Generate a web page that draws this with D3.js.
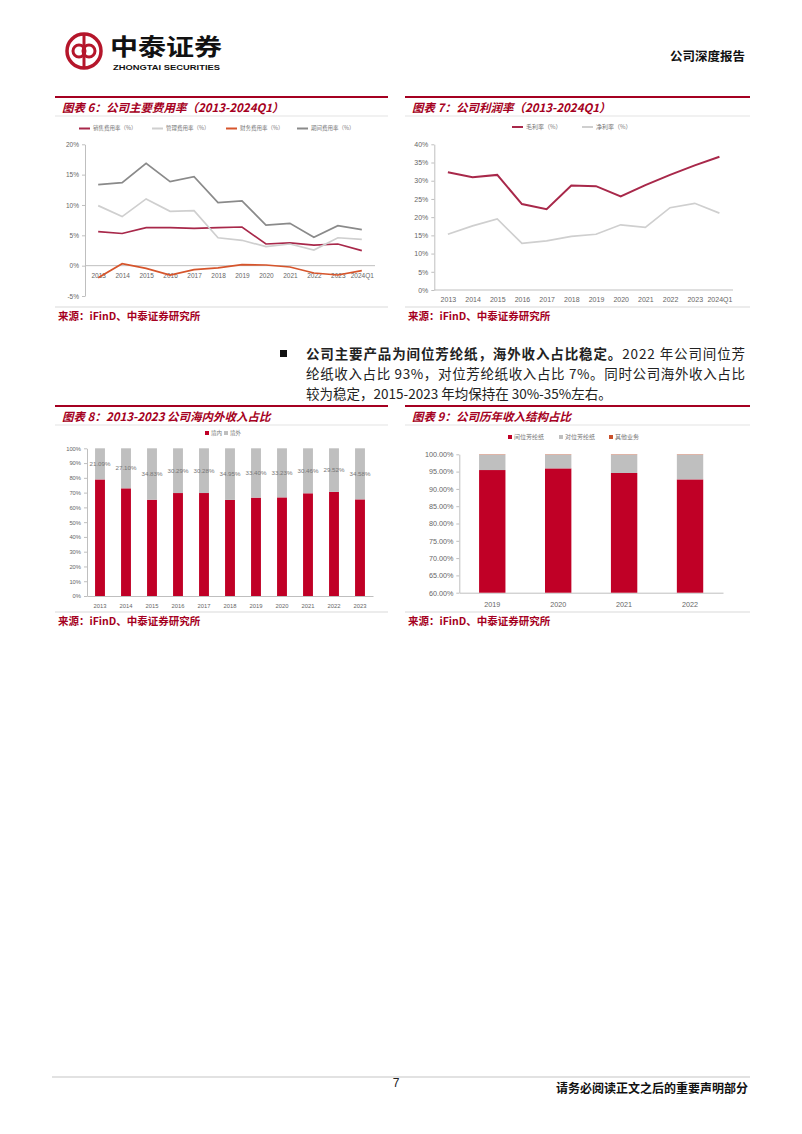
<!DOCTYPE html>
<html>
<head>
<meta charset="utf-8">
<script src="https://cdn.jsdelivr.net/npm/d3@7"></script>
<style>
  body { margin: 0; background: #fff; }
  svg text { font-family: "Liberation Sans", "Noto Sans CJK SC", sans-serif; }
  .cjk { font-family: "Noto Sans CJK SC", sans-serif; }
</style>
</head>
<body>
<div id="page"></div>
<script>
// ---- data ----
var years13 = ["2013","2014","2015","2016","2017","2018","2019","2020","2021","2022","2023","2024Q1"];
var salesRate   = [5.6, 5.3, 6.26, 6.26, 6.15, 6.26, 6.37, 3.57, 3.74, 3.4, 3.57, 2.47];
var adminRate   = [9.89, 8.08, 11.0, 8.96, 9.07, 4.6, 4.18, 3.13, 3.57, 2.58, 4.6, 4.34];
var financeRate = [-1.98, 0.33, -0.44, -1.54, -0.66, -0.38, 0.16, 0.11, -0.22, -1.21, -1.54, -0.82];
var periodRate  = [13.35, 13.68, 16.87, 13.85, 14.67, 10.38, 10.66, 6.7, 6.98, 4.67, 6.59, 5.93];
var feeTicks = [-5, 0, 5, 10, 15, 20];

var grossMargin = [32.3, 30.95, 31.6, 23.6, 22.2, 28.7, 28.5, 25.7, 28.8, 31.6, 34.2, 36.6];
var netMargin   = [15.3, 17.6, 19.5, 12.8, 13.5, 14.7, 15.3, 17.9, 17.2, 22.6, 23.8, 21.1];
var marginTicks = [0, 5, 10, 15, 20, 25, 30, 35, 40];

var years8 = ["2013","2014","2015","2016","2017","2018","2019","2020","2021","2022","2023"];
var domestic = [78.91, 72.90, 65.17, 69.71, 69.72, 65.05, 66.60, 66.77, 69.54, 70.48, 65.42];
var overseas = [21.09, 27.10, 34.83, 30.29, 30.28, 34.95, 33.40, 33.23, 30.46, 29.52, 34.58];
var shareTicks = [0, 10, 20, 30, 40, 50, 60, 70, 80, 90, 100];

var years9 = ["2019","2020","2021","2022"];
var metaPaper  = [95.45, 95.93, 94.6, 92.75];
var paraPaper  = [4.45, 3.97, 5.3, 7.15];
var otherBiz   = [0.1, 0.1, 0.1, 0.1];
var structTicks = [60, 65, 70, 75, 80, 85, 90, 95, 100];

var RED = "#a50021";
var BAR_RED = "#c00026";
var BAR_GRAY = "#bfbfbf";
var AXIS = "#bfbfbf";
var LABEL = "#666";

var svg = d3.select("#page").append("svg")
    .attr("width", 802)
    .attr("height", 1134)
    .style("display", "block");
svg.append("rect").attr("width", 802).attr("height", 1134).attr("fill", "#fff");

// ---- page header ----
var logo = svg.append("g").attr("transform", "translate(84,51)");
logo.append("circle").attr("r", 17).attr("fill", "none").attr("stroke", "#b5162b").attr("stroke-width", 3.5);
logo.append("circle").attr("cx", -5).attr("cy", 0).attr("r", 6).attr("fill", "none").attr("stroke", "#b5162b").attr("stroke-width", 3);
logo.append("circle").attr("cx", 5).attr("cy", 0).attr("r", 6).attr("fill", "none").attr("stroke", "#b5162b").attr("stroke-width", 3);
logo.append("line").attr("x1", 0).attr("x2", 0).attr("y1", -16).attr("y2", 16).attr("stroke", "#b5162b").attr("stroke-width", 3);

svg.append("text").attr("class", "cjk")
    .attr("x", 110).attr("y", 55)
    .attr("textLength", 112).attr("lengthAdjust", "spacingAndGlyphs")
    .style("font-size", "23px").style("font-weight", 700).attr("fill", "#111")
    .text("中泰证券");
svg.append("text")
    .attr("x", 113).attr("y", 69.5)
    .attr("textLength", 107).attr("lengthAdjust", "spacingAndGlyphs")
    .style("font-size", "7.5px").style("font-weight", 700).attr("fill", "#111")
    .text("ZHONGTAI SECURITIES");
svg.append("text").attr("class", "cjk")
    .attr("x", 745).attr("y", 61).attr("text-anchor", "end")
    .style("font-size", "12.5px").style("font-weight", 700).attr("fill", "#111")
    .text("公司深度报告");

// ---- panel frame: red top rule, title, rules, source ----
function panel(x0, x1, top, title, srcY) {
    svg.append("line").attr("x1", x0).attr("x2", x1).attr("y1", top).attr("y2", top)
        .attr("stroke", RED).attr("stroke-width", 2);
    svg.append("text").attr("class", "cjk")
        .attr("x", x0 + 7).attr("y", top + 11).attr("dy", "0.35em")
        .style("font-size", "11.5px").style("font-weight", 700).style("font-style", "italic")
        .attr("fill", RED)
        .text(title);
    svg.append("line").attr("x1", x0).attr("x2", x1).attr("y1", top + 19).attr("y2", top + 19)
        .attr("stroke", "#e3e3e3").attr("stroke-width", 1);
    svg.append("line").attr("x1", x0).attr("x2", x1).attr("y1", srcY).attr("y2", srcY)
        .attr("stroke", "#d9d9d9").attr("stroke-width", 1);
    svg.append("text").attr("class", "cjk")
        .attr("x", x0 + 3).attr("y", srcY + 9).attr("dy", "0.35em")
        .style("font-size", "10.5px").style("font-weight", 700)
        .attr("fill", RED)
        .text("来源：iFinD、中泰证券研究所");
}

panel(55, 388, 97, "图表 6：公司主要费用率（2013-2024Q1）", 307);
panel(405, 750, 97, "图表 7：公司利润率（2013-2024Q1）", 307);
panel(55, 388, 406, "图表 8：2013-2023 公司海内外收入占比", 612);
panel(405, 750, 406, "图表 9：公司历年收入结构占比", 612);

function styleAxis(g, fs) {
    g.select(".domain").attr("stroke", AXIS);
    g.selectAll(".tick line").attr("stroke", AXIS);
    g.selectAll(".tick text").attr("fill", LABEL).style("font-size", fs + "px")
        .style("font-family", "'Liberation Sans', sans-serif");
}

function lineLegend(items, y) {
    items.forEach(function(it) {
        svg.append("line").attr("x1", it.x).attr("x2", it.x + 11).attr("y1", y).attr("y2", y)
            .attr("stroke", it.color).attr("stroke-width", 2);
        svg.append("text").attr("class", "cjk")
            .attr("x", it.x + 14).attr("y", y).attr("dy", "0.35em")
            .style("font-size", it.fs + "px").attr("fill", "#777")
            .text(it.label);
    });
}

// ---- chart 6: expense ratios ----
(function() {
    var x = d3.scalePoint().domain(years13).range([85, 375]).padding(0.55);
    var y = d3.scaleLinear().domain([-5, 20]).range([296, 144.3]);

    var yAx = svg.append("g").attr("transform", "translate(85,0)")
        .call(d3.axisLeft(y).tickValues(feeTicks).tickSize(3).tickSizeOuter(0).tickFormat(function(d) { return d + "%"; }));
    styleAxis(yAx, 6.5);
    var xAx = svg.append("g").attr("transform", "translate(0," + y(0) + ")")
        .call(d3.axisBottom(x).tickSize(0).tickPadding(8));
    styleAxis(xAx, 6.5);
    xAx.select(".domain").attr("d", "M85,0H375");

    var series = [
        { vals: salesRate, color: "#a8284a" },
        { vals: adminRate, color: "#cfcfcf" },
        { vals: financeRate, color: "#d6552c" },
        { vals: periodRate, color: "#8a8a8a" }
    ];
    var line = d3.line().x(function(d, i) { return x(years13[i]); }).y(function(d) { return y(d); });
    series.forEach(function(s) {
        svg.append("path").datum(s.vals).attr("d", line)
            .attr("fill", "none").attr("stroke", s.color).attr("stroke-width", 1.7);
    });

    lineLegend([
        { x: 79, color: "#a8284a", label: "销售费用率（%）", fs: 5.5 },
        { x: 152, color: "#cfcfcf", label: "管理费用率（%）", fs: 5.5 },
        { x: 226, color: "#d6552c", label: "财务费用率（%）", fs: 5.5 },
        { x: 297, color: "#8a8a8a", label: "期间费用率（%）", fs: 5.5 }
    ], 128.5);
})();

// ---- chart 7: margins ----
(function() {
    var x = d3.scalePoint().domain(years13).range([434.3, 733]).padding(0.55);
    var y = d3.scaleLinear().domain([0, 40]).range([290, 144.3]);

    var yAx = svg.append("g").attr("transform", "translate(434.3,0)")
        .call(d3.axisLeft(y).tickValues(marginTicks).tickSize(3).tickSizeOuter(0).tickFormat(function(d) { return d + "%"; }));
    styleAxis(yAx, 7);
    var xAx = svg.append("g").attr("transform", "translate(0,290)")
        .call(d3.axisBottom(x).tickSize(0).tickPadding(7));
    styleAxis(xAx, 7);
    xAx.select(".domain").attr("d", "M434.3,0H733");

    var line = d3.line().x(function(d, i) { return x(years13[i]); }).y(function(d) { return y(d); });
    svg.append("path").datum(grossMargin).attr("d", line)
        .attr("fill", "none").attr("stroke", "#a8284a").attr("stroke-width", 2);
    svg.append("path").datum(netMargin).attr("d", line)
        .attr("fill", "none").attr("stroke", "#cfcfcf").attr("stroke-width", 1.7);

    lineLegend([
        { x: 512, color: "#a8284a", label: "毛利率（%）", fs: 6 },
        { x: 582, color: "#cfcfcf", label: "净利率（%）", fs: 6 }
    ], 127);
})();

function squareLegend(items, y, fs) {
    items.forEach(function(it) {
        svg.append("rect").attr("x", it.x).attr("y", y - 2).attr("width", 4).attr("height", 4)
            .attr("fill", it.color);
        svg.append("text").attr("class", "cjk")
            .attr("x", it.x + 6).attr("y", y).attr("dy", "0.35em")
            .style("font-size", fs + "px").attr("fill", "#777")
            .text(it.label);
    });
}

// ---- chart 8: domestic vs overseas ----
(function() {
    var x = d3.scaleBand().domain(years8).range([87, 373]).paddingInner(0.62).paddingOuter(0.31);
    var y = d3.scaleLinear().domain([0, 100]).range([596, 448.3]);

    var yAx = svg.append("g").attr("transform", "translate(87,0)")
        .call(d3.axisLeft(y).tickValues(shareTicks).tickSize(3).tickSizeOuter(0).tickFormat(function(d) { return d + "%"; }));
    styleAxis(yAx, 5.8);
    var xAx = svg.append("g").attr("transform", "translate(0,596)")
        .call(d3.axisBottom(x).tickSize(0).tickPadding(8));
    styleAxis(xAx, 5.8);

    var rows = years8.map(function(yr, i) { return { yr: yr, dom: domestic[i], ovs: overseas[i] }; });
    var g = svg.append("g");
    g.selectAll("rect.dom").data(rows).enter().append("rect")
        .attr("x", function(d) { return x(d.yr); })
        .attr("width", x.bandwidth())
        .attr("y", function(d) { return y(d.dom); })
        .attr("height", function(d) { return y(0) - y(d.dom); })
        .attr("fill", BAR_RED);
    g.selectAll("rect.ovs").data(rows).enter().append("rect")
        .attr("x", function(d) { return x(d.yr); })
        .attr("width", x.bandwidth())
        .attr("y", function(d) { return y(d.dom + d.ovs); })
        .attr("height", function(d) { return y(d.dom) - y(d.dom + d.ovs); })
        .attr("fill", BAR_GRAY);
    g.selectAll("text.lab").data(rows).enter().append("text")
        .attr("x", function(d) { return x(d.yr) + x.bandwidth() / 2; })
        .attr("y", function(d) { return y(d.dom + d.ovs / 2); })
        .attr("dy", "0.35em").attr("text-anchor", "middle")
        .style("font-size", "6.2px").attr("fill", "#777")
        .text(function(d) { return d.ovs.toFixed(2) + "%"; });

    squareLegend([
        { x: 205, color: BAR_RED, label: "境内" },
        { x: 224, color: BAR_GRAY, label: "境外" }
    ], 433, 5.5);
})();

// ---- chart 9: revenue structure ----
(function() {
    var x = d3.scaleBand().domain(years9).range([459.3, 723]).paddingInner(0.6).paddingOuter(0.3);
    var y = d3.scaleLinear().domain([60, 100]).range([592.7, 454.3]);

    var yAx = svg.append("g").attr("transform", "translate(459.3,0)")
        .call(d3.axisLeft(y).tickValues(structTicks).tickSize(3).tickSizeOuter(0).tickFormat(function(d) { return d.toFixed(2) + "%"; }));
    styleAxis(yAx, 7.2);
    var xAx = svg.append("g").attr("transform", "translate(0,592.7)")
        .call(d3.axisBottom(x).tickSize(0).tickPadding(9));
    styleAxis(xAx, 7.2);

    var rows = years9.map(function(yr, i) { return { yr: yr, meta: metaPaper[i], para: paraPaper[i], other: otherBiz[i] }; });
    var g = svg.append("g");
    g.selectAll("rect.meta").data(rows).enter().append("rect")
        .attr("x", function(d) { return x(d.yr); })
        .attr("width", x.bandwidth())
        .attr("y", function(d) { return y(d.meta); })
        .attr("height", function(d) { return y(60) - y(d.meta); })
        .attr("fill", BAR_RED);
    g.selectAll("rect.para").data(rows).enter().append("rect")
        .attr("x", function(d) { return x(d.yr); })
        .attr("width", x.bandwidth())
        .attr("y", function(d) { return y(d.meta + d.para); })
        .attr("height", function(d) { return y(d.meta) - y(d.meta + d.para); })
        .attr("fill", BAR_GRAY);
    g.selectAll("rect.other").data(rows).enter().append("rect")
        .attr("x", function(d) { return x(d.yr); })
        .attr("width", x.bandwidth())
        .attr("y", function(d) { return y(d.meta + d.para + d.other); })
        .attr("height", function(d) { return y(d.meta + d.para) - y(d.meta + d.para + d.other); })
        .attr("fill", "#c9502a");

    squareLegend([
        { x: 508, color: BAR_RED, label: "间位芳纶纸" },
        { x: 559, color: BAR_GRAY, label: "对位芳纶纸" },
        { x: 609, color: "#c9502a", label: "其他业务" }
    ], 437, 6);
})();

// ---- paragraph ----
svg.append("rect").attr("x", 280).attr("y", 350).attr("width", 7).attr("height", 7).attr("fill", "#111");
var para = [
    { y: 359, justify: true, parts: [
        { t: "公司主要产品为间位芳纶纸，海外收入占比稳定。", b: true },
        { t: "2022 年公司间位芳", b: false } ] },
    { y: 379, justify: true, parts: [
        { t: "纶纸收入占比 93%，对位芳纶纸收入占比 7%。同时公司海外收入占比", b: false } ] },
    { y: 399, justify: false, parts: [
        { t: "较为稳定，2015-2023 年均保持在 30%-35%左右。", b: false } ] }
];
para.forEach(function(p) {
    var t = svg.append("text").attr("class", "cjk")
        .attr("x", 306).attr("y", p.y)
        .style("font-size", "13.5px").attr("fill", "#222");
    if (p.justify) t.attr("textLength", 439).attr("lengthAdjust", "spacing");
    p.parts.forEach(function(s) {
        t.append("tspan").style("font-weight", s.b ? 700 : 400).text(s.t);
    });
});

// ---- footer ----
svg.append("line").attr("x1", 52).attr("x2", 750).attr("y1", 1077).attr("y2", 1077)
    .attr("stroke", "#d9d9d9").attr("stroke-width", 1.5);
svg.append("text").attr("x", 396).attr("y", 1083).attr("dy", "0.35em").attr("text-anchor", "middle")
    .style("font-size", "12px").attr("fill", "#222").text("7");
svg.append("text").attr("class", "cjk")
    .attr("x", 748).attr("y", 1089).attr("dy", "0.35em").attr("text-anchor", "end")
    .style("font-size", "12px").style("font-weight", 700).attr("fill", "#111")
    .text("请务必阅读正文之后的重要声明部分");
</script>
</body>
</html>
